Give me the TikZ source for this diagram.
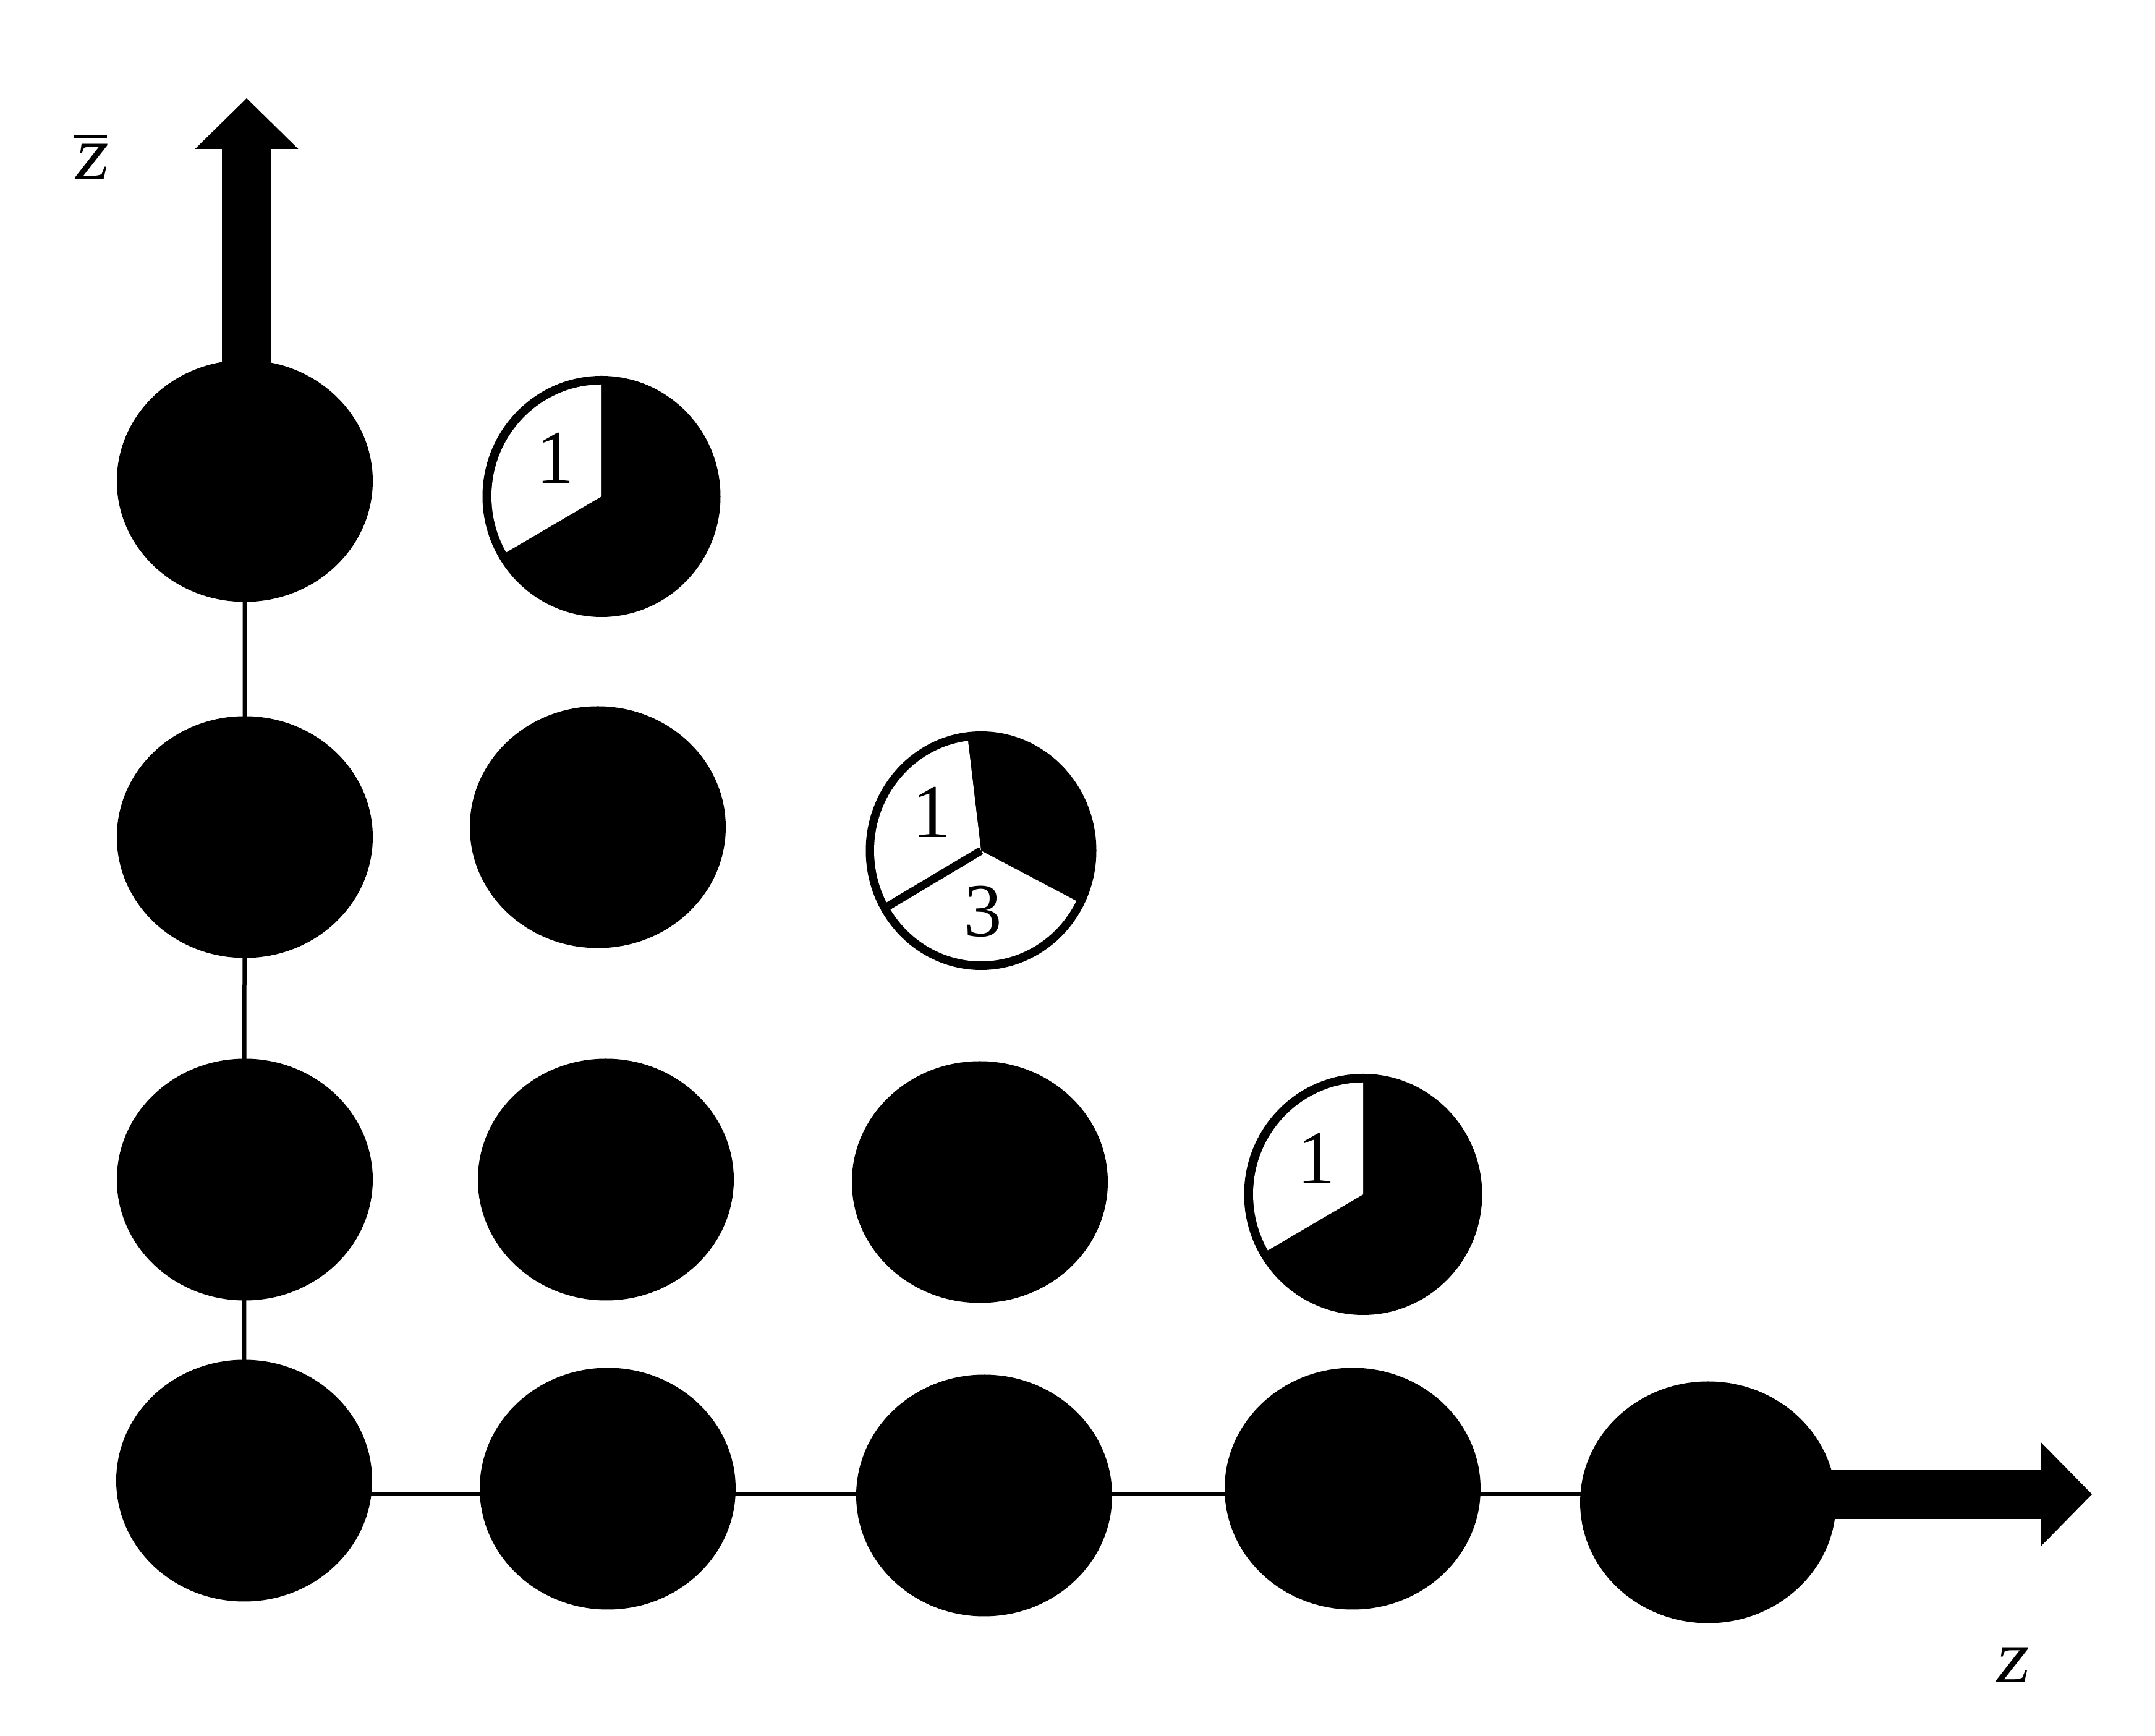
\documentclass[tikz,border=0pt]{standalone}
\usepackage{amsmath}
\usepackage{fontspec}
\setmainfont{Liberation Serif}
\newfontfamily\slantz[FakeSlant=0.15]{Liberation Serif}
\usetikzlibrary{arrows.meta, shapes.geometric, backgrounds}

\begin{document}
\begin{tikzpicture}[
            blob/.style = {ellipse, fill = black, inner sep = 0pt,
                minimum width = 4.14cm, minimum height = 3.91cm}, % black dots
            pie/.style = {ellipse, fill = black, inner sep = 0pt,
                minimum width = 3.85cm, minimum height = 3.9cm}, % partly filled dots
            lab/.style = {font = \fontsize{35}{42}\selectfont, inner sep = 0pt},
            link/.style = {line width = 0.065cm},
            axisarrow/.style = {line width = 0.8cm,
                -{Triangle[length = 0.82cm, width = 1.67cm, line width = 0pt]}}
        ]

        \begin{pgfonlayer}{background}
            \fill[white] (0,0) rectangle (34.86,28.08);
        \end{pgfonlayer}
        \useasboundingbox (0,0) rectangle (34.86,28.08);

        % bottom row
        \node[blob] (z00) at (3.95,4.13) {};
        \node[blob] (z10) at (9.83,4.00) {};
        \node[blob] (z20) at (15.92,3.89) {};
        \node[blob] (z30) at (21.88,4.00) {};
        \node[blob] (z40) at (27.63,3.78) {};

        % left column
        \node[blob] (z01) at (3.96,9.00) {};
        \node[blob] (z02) at (3.96,14.54) {};
        \node[blob] (z03) at (3.96,20.30) {};

        % inner dots
        \node[blob] (z11) at (9.80,9.00) {};
        \node[blob] (z12) at (9.67,14.70) {};
        \node[blob] (z21) at (15.85,8.96) {};

        % pies
        \node[pie] (p13) at (9.73,20.05) {};
        \node[pie, minimum width = 3.73cm, minimum height = 3.86cm] (p22) at (15.87,14.32) {};
        \node[pie] (p31) at (22.05,8.76) {};

        \fill[white] (p13.center) -- ++(0,1.81)
            arc[start angle = 90, end angle = 210, x radius = 1.78, y radius = 1.81] -- cycle;
        \fill[white] (p31.center) -- ++(0,1.81)
            arc[start angle = 90, end angle = 210, x radius = 1.78, y radius = 1.81] -- cycle;
        \fill[white] (p22.center) -- ++({1.73*cos(97)},{1.79*sin(97)})
            arc[start angle = 97, end angle = 333, x radius = 1.73, y radius = 1.79] -- cycle;
        \draw[line width = 0.13cm] (p22.center) -- ++({1.8*cos(210)},{1.86*sin(210)});

        \node[lab] (p13a) at ([shift={(-0.75,0.62)}]p13.center) {1};
        \node[lab] (p22a) at ([shift={(-0.80,0.62)}]p22.center) {1};
        \node[lab] (p22b) at ([shift={(0.03,-0.98)}]p22.center) {3};
        \node[lab] (p31a) at ([shift={(-0.76,0.58)}]p31.center) {1};

        % axes
        \coordinate (zend) at (33.84,3.91);
        \coordinate (zbarend) at (3.99,26.49);
        \node[lab] (zlab) at (32.53,1.15) {\slantz z};
        \node[lab] (zbarlab) at (1.46,25.55) {$\overline{\text{\slantz z}}$};

        \begin{pgfonlayer}{background}
            \draw[link] (z00.center |- zend) -- (z40.center |- zend);
            \draw[link] (z00.center) -- (z03.center);
            \draw[axisarrow] (z40.center |- zend) -- (zend);
            \draw[axisarrow] (zbarend |- z03.center) -- (zbarend);
        \end{pgfonlayer}
    \end{tikzpicture}
\end{document}
